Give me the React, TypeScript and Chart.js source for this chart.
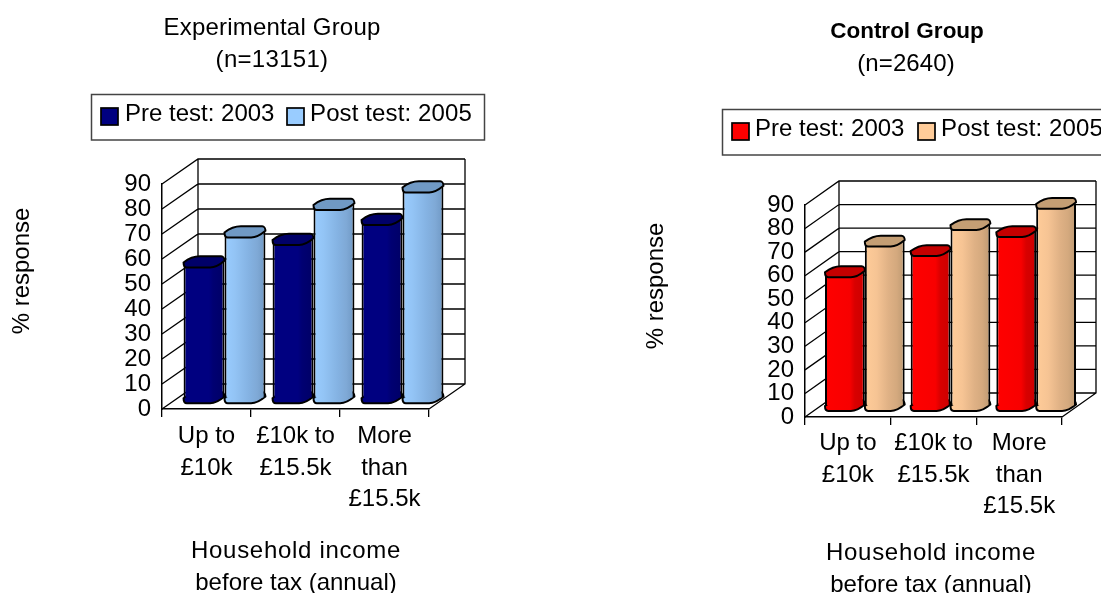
import React, { useEffect, useRef } from "react";
import { Chart, registerables } from "chart.js";

Chart.register(...registerables);

const categories = [["Up to", "£10k"], ["£10k to", "£15.5k"], ["More", "than", "£15.5k"]];
const seriesLabels = ["Pre test: 2003", "Post test: 2005"];
const expPre = [54.5, 63.5, 71.5];
const expPost = [66.5, 77.5, 84.5];
const ctlPre = [57, 66, 74];
const ctlPost = [70, 77, 86];
const yTicks = [0, 10, 20, 30, 40, 50, 60, 70, 80, 90];
const xTitleLines = ["Household income", "before tax (annual)"];
const yTitle = "% response";

const FONT = '"Liberation Sans", Arial, sans-serif';
const CW = [550, 551];

type Palette = { swatch: string; top: string; stops: [number, string][] };
const navy: Palette = { swatch: "#000080", top: "#000068", stops: [[0, "#000080"], [0.62, "#000080"], [0.72, "#000072"], [1, "#000066"]] };
const sky: Palette = { swatch: "#99ccff", top: "#7099c4", stops: [[0, "#99ccff"], [0.25, "#93c4f5"], [0.6, "#84b2e2"], [0.8, "#7fa9d6"], [1, "#6f98c4"]] };
const red: Palette = { swatch: "#ff0000", top: "#c40000", stops: [[0, "#ff0000"], [0.62, "#f80000"], [0.75, "#d80000"], [1, "#cc0000"]] };
const peach: Palette = { swatch: "#ffcc99", top: "#c49e74", stops: [[0, "#ffcc99"], [0.3, "#f6c494"], [0.6, "#dfb185"], [0.8, "#d4a97e"], [1, "#bd9972"]] };

type Text = { t: string; x: number; y: number; bold?: boolean; size?: number; sp?: number; rot?: boolean };
type Cfg = {
  ox: number; W: number; x0: number; x1: number; yTop: number; yBot: number;
  dx: number; dy: number; shift: number[]; catPct: number; capH: number;
  pre: number[]; post: number[]; colors: [Palette, Palette];
  legend: { l: number; t: number; r: number; b: number; sw: number[]; swY: number; tx: number[]; ty: number };
  tickPadX: number; texts: Text[];
};

const panels: Cfg[] = [
  {
    ox: 0, W: CW[0], x0: 162, x1: 429, yTop: 184, yBot: 409, dx: 36, dy: -25, shift: [18, -10.8], catPct: 0.92, capH: 5.6,
    pre: expPre, post: expPost, colors: [navy, sky],
    legend: { l: 91.5, t: 94.5, r: 484.5, b: 140, sw: [101, 287], swY: 108, tx: [125, 310], ty: 114 },
    tickPadX: 3,
    texts: [
      { t: "Experimental Group", x: 272, y: 28, sp: 0.2 },
      { t: "(n=13151)", x: 272, y: 60, sp: 0.3 },
      { t: xTitleLines[0], x: 296, y: 551, sp: 0.7 },
      { t: xTitleLines[1], x: 296, y: 583 },
      { t: yTitle, x: 22, y: 271, rot: true },
    ],
  },
  {
    ox: 550, W: CW[1], x0: 805, x1: 1062, yTop: 205, yBot: 417, dx: 34, dy: -24, shift: [17, -11], catPct: 0.93, capH: 5.4,
    pre: ctlPre, post: ctlPost, colors: [red, peach],
    legend: { l: 722.5, t: 109.5, r: 1130, b: 155, sw: [732, 918], swY: 123, tx: [755, 941], ty: 129 },
    tickPadX: 2,
    texts: [
      { t: "Control Group", x: 907, y: 32, bold: true, size: 22.5 },
      { t: "(n=2640)", x: 906, y: 64, sp: 0.1 },
      { t: xTitleLines[0], x: 931, y: 553, sp: 0.7 },
      { t: xTitleLines[1], x: 931, y: 585 },
      { t: yTitle, x: 656, y: 286, rot: true },
    ],
  },
];

function capPath(ctx: CanvasRenderingContext2D, cx: number, cy: number, w: number, h: number) {
  const X = (v: number) => cx + v * w;
  const Y = (v: number) => cy + v * h;
  ctx.beginPath();
  ctx.moveTo(X(-0.5), Y(0.1));
  ctx.bezierCurveTo(X(-0.42), Y(-0.35), X(-0.25), Y(-1), X(-0.1), Y(-1));
  ctx.lineTo(X(0.42), Y(-1));
  ctx.bezierCurveTo(X(0.47), Y(-1), X(0.5), Y(-0.6), X(0.5), Y(-0.2));
  ctx.bezierCurveTo(X(0.42), Y(0.3), X(0.28), Y(1), X(0.15), Y(1));
  ctx.lineTo(X(-0.42), Y(1));
  ctx.bezierCurveTo(X(-0.47), Y(1), X(-0.5), Y(0.6), X(-0.5), Y(0.1));
  ctx.closePath();
}

function makePlugin(cfg: Cfg) {
  const ox = cfg.ox;
  return {
    id: "excel3d",
    beforeDraw(chart: any) {
      const ctx: any = chart.ctx;
      const L = cfg.legend;
      ctx.save();
      ctx.fillStyle = "#fff";
      ctx.fillRect(0, 0, chart.width, chart.height);
      ctx.strokeStyle = "#444";
      ctx.lineWidth = 1.5;
      ctx.strokeRect(L.l - ox, L.t, L.r - L.l, L.b - L.t);
      chart.data.datasets.forEach((ds: any, i: number) => {
        ctx.fillStyle = cfg.colors[i].swatch;
        ctx.strokeStyle = "#000";
        ctx.lineWidth = 1.7;
        ctx.fillRect(L.sw[i] - ox, L.swY, 17, 17);
        ctx.strokeRect(L.sw[i] - ox, L.swY, 17, 17);
        ctx.fillStyle = "#000";
        ctx.font = `24px ${FONT}`;
        ctx.letterSpacing = i === 0 ? "0px" : "0.12px";
        ctx.textAlign = "left";
        ctx.textBaseline = "middle";
        ctx.fillText(ds.label, L.tx[i] - ox, L.ty);
      });
      ctx.restore();
    },
    beforeDatasetsDraw(chart: any) {
      const ctx: CanvasRenderingContext2D = chart.ctx;
      const { x: xs, y: ys } = chart.scales;
      const xa = xs.left, xb = xs.right;
      const { dx, dy } = cfg;
      ctx.save();
      ctx.strokeStyle = "#000";
      ctx.lineWidth = 1.3;
      ctx.beginPath();
      ys.ticks.forEach((t: any) => {
        const y = ys.getPixelForValue(t.value);
        ctx.moveTo(xa, y);
        ctx.lineTo(xa + dx, y + dy);
        ctx.lineTo(xb + dx, y + dy);
      });
      const yt = ys.getPixelForValue(90) + dy;
      const yb = ys.getPixelForValue(0) + dy;
      ctx.moveTo(xa + dx, yt);
      ctx.lineTo(xa + dx, yb);
      ctx.moveTo(xb + dx, yt);
      ctx.lineTo(xb + dx, yb);
      ctx.lineTo(xb, yb - dy);
      ctx.stroke();
      ctx.restore();
    },
    beforeDatasetDraw(chart: any, args: any) {
      const ctx: CanvasRenderingContext2D = chart.ctx;
      const pal = cfg.colors[args.index];
      ctx.save();
      ctx.translate(cfg.shift[0], cfg.shift[1]);
      args.meta.data.forEach((el: any) => {
        const g = ctx.createLinearGradient(el.x - el.width / 2, 0, el.x + el.width / 2, 0);
        pal.stops.forEach(([o, c]) => g.addColorStop(o, c));
        el.options = { ...el.options, backgroundColor: g };
        capPath(ctx, el.x, el.base, el.width, cfg.capH);
        ctx.fillStyle = g;
        ctx.fill();
        ctx.strokeStyle = "#000";
        ctx.lineWidth = 2;
        ctx.stroke();
      });
    },
    afterDatasetDraw(chart: any, args: any) {
      const ctx: CanvasRenderingContext2D = chart.ctx;
      const pal = cfg.colors[args.index];
      args.meta.data.forEach((el: any) => {
        capPath(ctx, el.x, el.y, el.width, cfg.capH);
        ctx.fillStyle = pal.top;
        ctx.fill();
        ctx.strokeStyle = "#000";
        ctx.lineWidth = 2;
        ctx.stroke();
      });
      ctx.restore();
    },
    afterDraw(chart: any) {
      const ctx: any = chart.ctx;
      ctx.save();
      ctx.fillStyle = "#000";
      ctx.textAlign = "center";
      ctx.textBaseline = "middle";
      cfg.texts.forEach((t) => {
        ctx.font = `${t.bold ? "bold " : ""}${t.size ?? 24}px ${FONT}`;
        ctx.letterSpacing = `${t.sp ?? 0}px`;
        if (t.rot) {
          ctx.save();
          ctx.translate(t.x - ox, t.y);
          ctx.rotate(-Math.PI / 2);
          ctx.fillText(t.t, 0, 0);
          ctx.restore();
        } else {
          ctx.fillText(t.t, t.x - ox, t.y);
        }
      });
      ctx.restore();
    },
  };
}

function Panel({ cfg }: { cfg: Cfg }) {
  const ref = useRef<HTMLCanvasElement>(null);
  useEffect(() => {
    const H = 593;
    const yW = 60;
    const xH = 100;
    const common = { categoryPercentage: cfg.catPct, barPercentage: 1, borderColor: "#000", borderWidth: { left: 2, right: 2, top: 0, bottom: 0 }, borderSkipped: false, clip: false };
    const chart = new Chart(ref.current!, {
      type: "bar",
      data: {
        labels: categories,
        datasets: [
          { label: seriesLabels[0], data: cfg.pre, backgroundColor: cfg.colors[0].swatch, ...common },
          { label: seriesLabels[1], data: cfg.post, backgroundColor: cfg.colors[1].swatch, ...common },
        ],
      } as any,
      options: {
        responsive: false,
        animation: false,
        layout: {
          autoPadding: false,
          padding: {
            left: cfg.x0 - cfg.ox - yW,
            right: cfg.W - (cfg.x1 - cfg.ox),
            top: cfg.yTop,
            bottom: H - cfg.yBot - xH,
          },
        },
        plugins: { legend: { display: false }, title: { display: false }, tooltip: { enabled: false } },
        scales: {
          x: {
            afterFit: (s: any) => { s.height = xH; },
            grid: { drawOnChartArea: false, color: "#000", tickLength: 8, lineWidth: 1.3 },
            border: { color: "#000", width: 1.5 },
            ticks: { color: "#000", font: { family: FONT, size: 24, lineHeight: 1.33 }, maxRotation: 0, minRotation: 0, autoSkip: false, padding: cfg.tickPadX },
          },
          y: {
            min: 0,
            max: 90,
            afterFit: (s: any) => { s.width = yW; },
            afterBuildTicks: (s: any) => { s.ticks = yTicks.map((value) => ({ value })); },
            grid: { drawOnChartArea: false, drawTicks: false, tickLength: 0 },
            border: { color: "#000", width: 1.5 },
            ticks: { color: "#000", font: { family: FONT, size: 24 }, padding: 11, autoSkip: false },
          },
        },
      } as any,
      plugins: [makePlugin(cfg)],
    });
    return () => chart.destroy();
  }, [cfg]);
  return <canvas ref={ref} width={cfg.W} height={593} style={{ position: "absolute", left: cfg.ox, top: 0, display: "block" }} />;
}

export default function App() {
  return (
    <div style={{ position: "absolute", left: 0, top: 0, width: 1101, height: 593, overflow: "hidden", background: "#fff" }}>
      {panels.map((p) => <Panel key={p.ox} cfg={p} />)}
    </div>
  );
}
